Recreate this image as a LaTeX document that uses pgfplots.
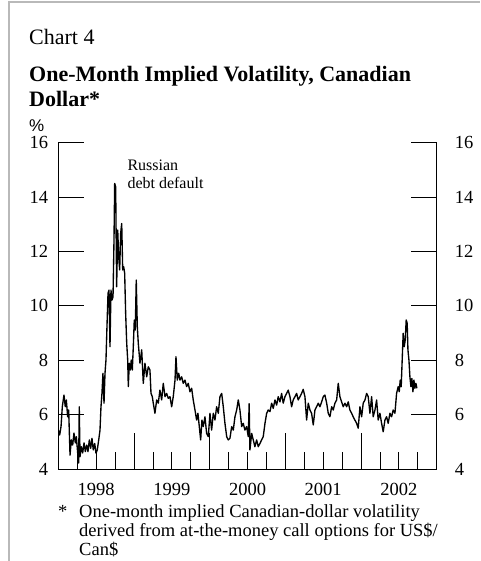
\documentclass[border=0pt]{standalone}
\usepackage{fontspec}
\setmainfont{Liberation Serif}
\setsansfont{Liberation Sans}
\usepackage{pgfplots}
\pgfplotsset{compat=1.18}
\pgfplotstableread{
t v
1998.000 5.43
1998.018 5.25
1998.036 5.56
1998.053 6.29
1998.075 6.72
1998.092 6.29
1998.106 6.54
1998.124 5.92
1998.137 6.17
1998.155 4.51
1998.172 5.07
1998.190 4.88
1998.207 5.32
1998.225 4.96
1998.238 5.19
1998.256 4.59
1998.269 4.22
1998.277 6.29
1998.287 4.45
1998.304 4.82
1998.322 4.59
1998.340 4.96
1998.357 4.64
1998.375 4.88
1998.392 4.64
1998.410 5.07
1998.428 4.76
1998.445 5.13
1998.462 4.70
1998.481 4.94
1998.498 4.58
1998.515 4.70
1998.534 5.07
1998.551 5.43
1998.564 6.29
1998.577 6.78
1998.590 7.52
1998.604 6.42
1998.617 7.52
1998.630 8.01
1998.643 9.23
1998.657 10.46
1998.670 10.58
1998.683 8.50
1998.696 10.58
1998.709 10.21
1998.723 10.33
1998.736 12.42
1998.745 14.50
1998.758 14.38
1998.771 10.70
1998.785 12.79
1998.798 11.80
1998.811 11.32
1998.824 12.67
1998.838 13.03
1998.851 11.32
1998.864 11.44
1998.877 11.20
1998.890 9.72
1998.904 8.62
1998.917 8.01
1998.925 7.03
1998.938 7.89
1998.951 7.64
1998.964 8.01
1998.978 7.64
1998.991 8.50
1999.004 9.48
1999.017 9.11
1999.030 10.95
1999.044 9.23
1999.057 8.62
1999.079 7.89
1999.102 8.38
1999.123 7.15
1999.145 7.89
1999.168 7.39
1999.189 7.76
1999.211 7.64
1999.225 6.78
1999.242 6.66
1999.255 6.42
1999.277 6.05
1999.300 6.54
1999.321 6.42
1999.343 6.90
1999.366 6.54
1999.387 7.15
1999.410 6.66
1999.432 6.78
1999.453 6.60
1999.476 6.66
1999.498 6.29
1999.519 6.66
1999.542 7.27
1999.555 8.13
1999.572 7.27
1999.591 7.52
1999.608 7.27
1999.630 7.39
1999.651 7.15
1999.674 7.27
1999.696 7.03
1999.717 7.15
1999.740 6.84
1999.762 6.97
1999.783 6.54
1999.806 6.17
1999.828 5.80
1999.845 6.05
1999.863 5.56
1999.881 5.07
1999.898 5.80
1999.915 5.56
1999.938 5.92
1999.960 5.31
1999.982 5.19
2000.004 6.05
2000.026 5.43
2000.048 6.05
2000.070 5.80
2000.092 6.29
2000.114 6.05
2000.136 6.66
2000.159 6.78
2000.180 6.29
2000.202 5.68
2000.225 5.19
2000.246 5.07
2000.268 5.13
2000.291 5.56
2000.312 5.43
2000.334 5.92
2000.357 6.17
2000.378 6.54
2000.400 6.17
2000.423 5.56
2000.444 5.68
2000.466 5.43
2000.489 5.56
2000.510 5.19
2000.522 6.40
2000.532 4.70
2000.555 5.31
2000.576 5.07
2000.598 4.82
2000.621 5.07
2000.642 4.82
2000.664 4.94
2000.687 5.07
2000.708 5.19
2000.731 5.68
2000.753 6.05
2000.774 6.17
2000.797 6.11
2000.819 6.42
2000.840 6.23
2000.863 6.54
2000.885 6.35
2000.906 6.66
2000.929 6.47
2000.951 6.78
2000.972 6.42
2000.995 6.66
2001.017 6.78
2001.038 6.90
2001.061 6.66
2001.083 6.29
2001.104 6.54
2001.127 6.66
2001.149 6.78
2001.170 6.54
2001.193 6.66
2001.215 6.78
2001.236 6.93
2001.259 6.66
2001.281 5.80
2001.303 6.42
2001.325 6.17
2001.347 6.05
2001.369 5.62
2001.391 6.17
2001.413 6.29
2001.435 6.42
2001.457 6.29
2001.480 6.47
2001.501 6.66
2001.523 6.72
2001.546 6.42
2001.567 6.05
2001.589 5.92
2001.612 6.29
2001.633 6.17
2001.655 6.42
2001.678 6.54
2001.699 7.15
2001.721 6.66
2001.744 6.47
2001.765 6.29
2001.787 6.42
2001.810 6.29
2001.831 6.47
2001.853 6.17
2001.876 6.05
2001.897 5.92
2001.919 5.80
2001.942 5.68
2001.963 5.50
2001.986 6.29
2002.008 5.92
2002.029 6.42
2002.052 6.54
2002.074 6.78
2002.095 6.66
2002.118 6.05
2002.140 6.66
2002.161 5.92
2002.184 6.17
2002.206 6.54
2002.227 5.80
2002.250 6.05
2002.272 5.68
2002.293 5.37
2002.316 5.80
2002.338 5.92
2002.359 5.68
2002.382 6.05
2002.404 5.92
2002.425 6.17
2002.448 6.05
2002.470 6.78
2002.491 7.03
2002.505 6.84
2002.518 7.27
2002.531 7.03
2002.544 8.01
2002.557 8.99
2002.571 8.50
2002.584 8.74
2002.597 9.48
2002.610 9.36
2002.620 8.38
2002.633 8.01
2002.646 7.39
2002.659 7.03
2002.672 7.33
2002.686 6.84
2002.699 7.27
2002.712 6.97
2002.725 7.15
2002.738 6.97
}\voldata
\pgfplotsset{base/.style={scale only axis, width=378.4pt, height=326.3pt,
  xmin=1998, xmax=2003, ymin=4, ymax=16, at={(58.3pt,-469pt)}, anchor=south west,
  tick align=inside, axis line style={line width=0.8pt, black},
  every tick/.style={black, line width=0.8pt},
  /pgf/number format/assume math mode=true}}
\begin{document}
\begin{tikzpicture}
\useasboundingbox (0pt,0pt) rectangle (480pt,-561pt);
\draw[gray!55, line width=1.5pt] (9pt,-561pt) -- (9pt,-2pt) -- (480pt,-2pt);
\node[anchor=base west, inner sep=0pt, font=\fontsize{22}{26}\selectfont] at (29pt,-44.5pt) {Chart 4};
\node[anchor=base west, inner sep=0pt, font=\fontsize{22}{26}\selectfont\bfseries] at (29pt,-81.5pt) {One-Month Implied Volatility, Canadian};
\node[anchor=base west, inner sep=0pt, font=\fontsize{22}{26}\selectfont\bfseries] at (29pt,-106.5pt) {Dollar*};
\node[anchor=base west, inner sep=0pt, font=\fontsize{17}{20}\selectfont\sffamily] at (29pt,-131.5pt) {\%};
% main axis: data, left y ticks, year labels
\begin{axis}[base,
  axis x line*=bottom, axis y line*=left,
  major tick length=26pt,
  xtick={1998.5,1999.5,2000.5,2001.5,2002.5},
  xticklabels={1998,1999,2000,2001,2002},
  xtick style={draw=none},
  xticklabel style={font=\fontsize{18.5}{20}\selectfont, anchor=north, inner sep=0pt, yshift=-14pt},
  ytick={4,6,8,10,12,14,16},
  yticklabel style={font=\fontsize{18.5}{20}\selectfont, anchor=east, inner sep=0pt, xshift=-10pt},
]
\addplot[black, line width=1.35pt, line join=round] table[x=t, y=v] {\voldata};
\end{axis}
% right y axis
\begin{axis}[base,
  axis y line*=right, axis x line=none,
  major tick length=26pt,
  xtick=\empty,
  ytick={4,6,8,10,12,14,16},
  yticklabel style={font=\fontsize{18.5}{20}\selectfont, anchor=west, inner sep=0pt, xshift=18pt},
]
\end{axis}
% x ticks
\begin{axis}[base,
  axis x line*=bottom, axis y line=none,
  ytick=\empty,
  major tick length=36pt, minor tick length=17.5pt,
  xtick={1999,2000,2001,2002}, xticklabels={},
  minor xtick={1998.25,1998.5,1998.75,1999.25,1999.5,1999.75,2000.25,2000.5,2000.75,2001.25,2001.5,2001.75,2002.25,2002.5,2002.75},
]
\end{axis}
\node[anchor=base west, inner sep=0pt, align=left, font=\fontsize{16}{18}\selectfont] at (127.3pt,-188.3pt) {Russian\\debt default};
\node[anchor=base west, inner sep=0pt, font=\fontsize{18.5}{19}\selectfont] at (58pt,-517pt) {*};
\node[anchor=base west, inner sep=0pt, font=\fontsize{18.5}{19}\selectfont] at (79pt,-517pt) {One-month implied Canadian-dollar volatility};
\node[anchor=base west, inner sep=0pt, font=\fontsize{18.5}{19}\selectfont] at (79pt,-536.5pt) {derived from at-the-money call options for US\$/};
\node[anchor=base west, inner sep=0pt, font=\fontsize{18.5}{19}\selectfont] at (79pt,-555pt) {Can\$};
\end{tikzpicture}
\end{document}
